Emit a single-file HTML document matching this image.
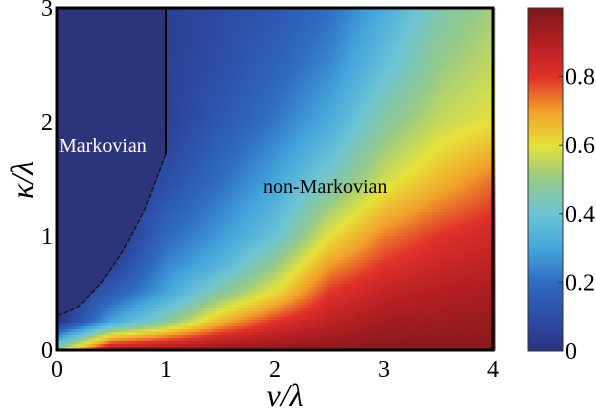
<!DOCTYPE html>
<html><head><meta charset="utf-8"><style>
body{margin:0;background:#fff;width:596px;height:414px;overflow:hidden}
svg{display:block;font-family:"Liberation Serif",serif}
</style></head><body>
<svg id="chart" width="596" height="414">
<g id="heat"></g>
<path id="markov" fill="#2c347a" stroke="none"/>
<path id="bndDash" fill="none" stroke="#111" stroke-width="1.3" stroke-dasharray="5,2"/>
<line id="bndLine" stroke="#000" stroke-width="2"/>
<rect x="57" y="8" width="436" height="342" fill="none" stroke="#000" stroke-width="3"/>
<text x="59" y="152" fill="#fff" font-size="20">Markovian</text>
<text x="263" y="193" fill="#000" font-size="20">non-Markovian</text>
<g id="xt" font-size="24" text-anchor="middle"></g>
<g id="yt" font-size="24" text-anchor="end"></g>
<text x="285" y="406" font-size="32" font-style="italic" text-anchor="middle">ν/λ</text>
<text transform="translate(33,180) rotate(-90)" font-size="32" font-style="italic" text-anchor="middle">κ/λ</text>
<defs><linearGradient id="cg" x1="0" y1="1" x2="0" y2="0"></linearGradient></defs>
<rect x="528" y="8" width="35" height="343" fill="url(#cg)" stroke="#333" stroke-width="1"/>
<g id="ct" font-size="24"></g>
</svg>
<script>
const xCats=[0,0.5,1,1.5,2,2.5,3,3.5,4];
const yCats=[0,0.25,0.5,0.75,1,1.5,2,2.5,3];
const vals=[ // rows: x columns, entries by yCats
[0.5,0,0,0,0,0,0,0,0],
[0.93,0.3,0.15,0.05,0,0,0,0,0],
[0.95,0.47,0.3,0.24,0.19,0.1,0.05,0.05,0.05],
[0.97,0.67,0.47,0.34,0.28,0.2,0.14,0.1,0.09],
[0.97,0.8,0.61,0.5,0.39,0.3,0.22,0.17,0.13],
[0.97,0.88,0.8,0.7,0.6,0.43,0.32,0.25,0.2],
[0.98,0.93,0.87,0.8,0.73,0.57,0.47,0.38,0.32],
[0.98,0.94,0.9,0.85,0.8,0.66,0.56,0.5,0.45],
[0.98,0.95,0.92,0.88,0.84,0.74,0.6,0.56,0.52]];
const boundX=[0,0.2,0.4,0.6,0.8,1];
const boundY=[0.3,0.38,0.58,0.86,1.22,1.72];
const xTicks=[0,1,2,3,4], yTicks=[0,1,2,3], cTicks=[0,0.2,0.4,0.6,0.8];
const stops=[[0,"#2a337e"],[0.1,"#2d4da6"],[0.2,"#2f6bc2"],[0.3,"#44a6dc"],[0.4,"#6cc4d4"],[0.5,"#94c98a"],[0.6,"#e6e23a"],[0.7,"#f2a02a"],[0.8,"#e0302a"],[0.9,"#b41e22"],[1,"#7c181c"]];
const X=v=>57+v*109, Y=v=>350-v*114;
const NS="http://www.w3.org/2000/svg";
function hex(h){return [1,3,5].map(i=>parseInt(h.substr(i,2),16));}
function col(v){v=Math.max(0,Math.min(1,v));for(let i=1;i<stops.length;i++){if(v<=stops[i][0]){const a=hex(stops[i-1][1]),b=hex(stops[i][1]),t=(v-stops[i-1][0])/(stops[i][0]-stops[i-1][0]);return `rgb(${a.map((c,k)=>Math.round(c+(b[k]-c)*t)).join(',')})`;}}return stops[stops.length-1][1];}
function seg(arr,v){for(let i=0;i<arr.length-1;i++)if(v<=arr[i+1])return [i,(v-arr[i])/(arr[i+1]-arr[i])];return [arr.length-2,1];}
function val(x,y){const [i,tx]=seg(xCats,x),[j,ty]=seg(yCats,y);const a=vals[i][j],b=vals[i+1][j],c=vals[i][j+1],d=vals[i+1][j+1];return (a*(1-tx)+b*tx)*(1-ty)+(c*(1-tx)+d*tx)*ty;}
const heat=document.getElementById('heat');const step=3;
for(let px=57;px<493;px+=step)for(let py=8;py<350;py+=step){
 const x=(px+step/2-57)/109,y=(350-(py+step/2))/114;
 const r=document.createElementNS(NS,'rect');
 r.setAttribute('x',px);r.setAttribute('y',py);r.setAttribute('width',step+0.5);r.setAttribute('height',step+0.5);
 r.setAttribute('fill',col(val(Math.min(x,4),Math.max(0,y))));
 
 
 heat.appendChild(r);}
let d=`M${X(0)},${Y(3)} L${X(0)},${Y(boundY[0])}`;let dd=`M${X(0)},${Y(boundY[0])}`;
boundX.forEach((bx,i)=>{d+=` L${X(bx)},${Y(boundY[i])}`;dd+=` L${X(bx)},${Y(boundY[i])}`;});
d+=` L${X(1)},${Y(3)} Z`;
document.getElementById('markov').setAttribute('d',d);
document.getElementById('bndDash').setAttribute('d',dd);
const bl=document.getElementById('bndLine');bl.setAttribute('x1',X(1));bl.setAttribute('x2',X(1));bl.setAttribute('y1',Y(3));bl.setAttribute('y2',Y(boundY[boundY.length-1]));
const xt=document.getElementById('xt');xTicks.forEach(t=>{const e=document.createElementNS(NS,'text');e.setAttribute('x',X(t));e.setAttribute('y',377);e.textContent=t;


xt.appendChild(e);});
const yt=document.getElementById('yt');yTicks.forEach(t=>{const e=document.createElementNS(NS,'text');e.setAttribute('x',53);e.setAttribute('y',Y(t)+8);e.textContent=t;


yt.appendChild(e);});
const cg=document.getElementById('cg');for(let i=0;i<=40;i++){const s=document.createElementNS(NS,'stop');s.setAttribute('offset',i/40);s.setAttribute('stop-color',col(i/40));cg.appendChild(s);}
const ct=document.getElementById('ct');cTicks.forEach(t=>{const y=351-t*343;
const l=document.createElementNS(NS,'line');l.setAttribute('x1',559);l.setAttribute('x2',563);l.setAttribute('y1',y);l.setAttribute('y2',y);l.setAttribute('stroke','#333');


ct.appendChild(l);
const e=document.createElementNS(NS,'text');e.setAttribute('x',565);e.setAttribute('y',y+8);e.textContent=t;


ct.appendChild(e);});
</script>
</body></html>
